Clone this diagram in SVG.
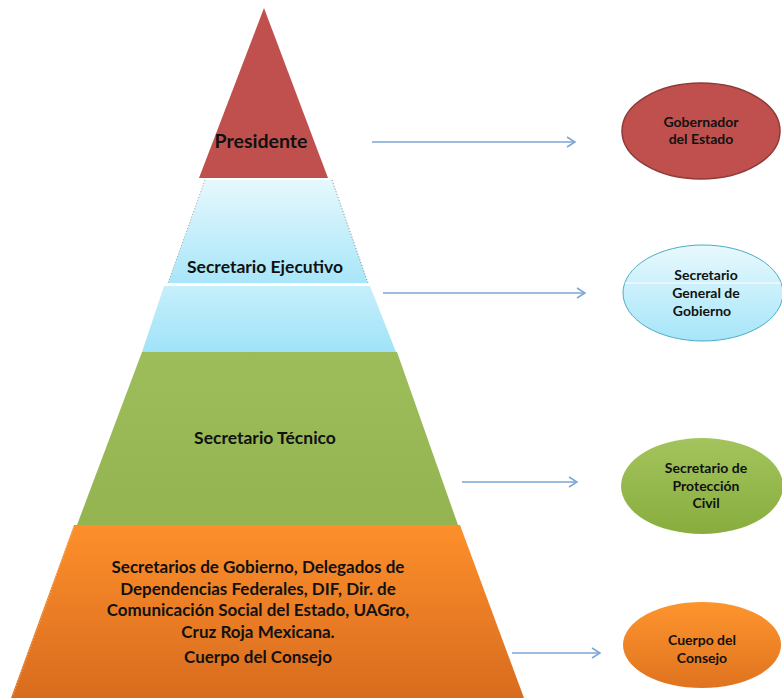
<svg xmlns="http://www.w3.org/2000/svg" width="782" height="698" viewBox="0 0 782 698">
<defs>
<linearGradient id="gBlue" x1="0" y1="0" x2="0" y2="1"><stop offset="0" stop-color="#e6f8fd"/><stop offset="1" stop-color="#a8e6f9"/></linearGradient>
<linearGradient id="gBlue2" x1="0" y1="0" x2="0" y2="1"><stop offset="0" stop-color="#c6effb"/><stop offset="1" stop-color="#a0e3f8"/></linearGradient>
<linearGradient id="gGreen" x1="0" y1="0" x2="0" y2="1"><stop offset="0" stop-color="#9dbd5a"/><stop offset="1" stop-color="#93b450"/></linearGradient>
<linearGradient id="gOrange" x1="0" y1="0" x2="0" y2="1"><stop offset="0" stop-color="#fd8f2b"/><stop offset="1" stop-color="#d86c1e"/></linearGradient>
<linearGradient id="eBlue" x1="0" y1="0" x2="0" y2="1"><stop offset="0" stop-color="#e8f9fd"/><stop offset="1" stop-color="#a6e5f9"/></linearGradient>
<linearGradient id="eGreen" x1="0" y1="0" x2="0" y2="1"><stop offset="0" stop-color="#a3c45c"/><stop offset="1" stop-color="#88ad3e"/></linearGradient>
<linearGradient id="eOrange" x1="0" y1="0" x2="0" y2="1"><stop offset="0" stop-color="#fd952e"/><stop offset="1" stop-color="#e0731f"/></linearGradient>
<marker id="arr" markerWidth="12" markerHeight="12" refX="10" refY="6" orient="auto" markerUnits="userSpaceOnUse">
<path d="M2,1 L10,6 L2,11" fill="none" stroke="#7da5d3" stroke-width="1.5"/>
</marker>
</defs>
<style>
.t{font-family:Lato,"Open Sans","Liberation Sans",sans-serif;font-weight:bold;fill:#111;text-anchor:middle}
.p{font-size:17.5px}
.q{font-size:17px}
.e{font-size:14px}
.c{fill:none;stroke:#7da5d3;stroke-width:1.6}
</style>
<rect width="782" height="698" fill="#ffffff"/>
<g id="presidente">
<polygon points="264,8 328,178 199,178" fill="#c0504d"/>
<text class="t" x="261" y="148" style="font-size:19.5px">Presidente</text>
</g>
<g id="secretario-ejecutivo">
<polygon points="205,180 332,180 368,283 168,283" fill="url(#gBlue)"/>
<line x1="205" y1="180" x2="168" y2="283" stroke="#888" stroke-width="0.8" stroke-dasharray="1,2"/>
<line x1="332" y1="180" x2="368" y2="283" stroke="#666" stroke-width="0.8" stroke-dasharray="1,2"/>
<polygon points="164,286 370,286 396,352 142,352" fill="url(#gBlue2)"/>
<text class="t p" x="265" y="273">Secretario Ejecutivo</text>
</g>
<g id="secretario-tecnico">
<polygon points="142,352 397,352 458,525 77,525" fill="url(#gGreen)"/>
<text class="t p" x="265" y="444">Secretario Técnico</text>
</g>
<g id="cuerpo-consejo">
<polygon points="74,525 460,525 524,698 11,698" fill="url(#gOrange)"/>
<line x1="74" y1="527" x2="13" y2="696" stroke="#f6c9a0" stroke-width="0.8" stroke-dasharray="1,2"/>
<text class="t q" x="258" y="573">Secretarios de Gobierno, Delegados de</text>
<text class="t q" x="258" y="595">Dependencias Federales, DIF, Dir. de</text>
<text class="t q" x="258" y="616">Comunicación Social del Estado, UAGro,</text>
<text class="t q" x="258" y="638">Cruz Roja Mexicana.</text>
<text class="t q" x="258" y="663">Cuerpo del Consejo</text>
</g>
<g id="connectors">
<line class="c" x1="372" y1="142" x2="575" y2="142" marker-end="url(#arr)"/>
<line class="c" x1="383" y1="293" x2="585" y2="293" marker-end="url(#arr)"/>
<line class="c" x1="462" y1="482" x2="577" y2="482" marker-end="url(#arr)"/>
<line class="c" x1="512" y1="653" x2="600" y2="653" marker-end="url(#arr)"/>
</g>
<g id="gobernador">
<ellipse cx="701" cy="131" rx="79" ry="48" fill="#c0504d" stroke="#8e3a38" stroke-width="1.5"/>
<text class="t e" x="701" y="127">Gobernador</text>
<text class="t e" x="701" y="144">del Estado</text>
</g>
<g id="secretario-general">
<ellipse cx="703" cy="293" rx="80" ry="48" fill="url(#eBlue)" stroke="#4bacc6" stroke-width="1"/>
<line x1="625" y1="283" x2="781" y2="283" stroke="#ffffff" stroke-width="1"/>
<text class="t e" x="706" y="280">Secretario</text>
<text class="t e" x="706" y="298">General de</text>
<text class="t e" x="702" y="316">Gobierno</text>
</g>
<g id="secretario-proteccion">
<ellipse cx="702" cy="486" rx="81" ry="48" fill="url(#eGreen)"/>
<text class="t e" x="706" y="473">Secretario de</text>
<text class="t e" x="706" y="491">Protección</text>
<text class="t e" x="706" y="508">Civil</text>
</g>
<g id="cuerpo-del-consejo">
<ellipse cx="702" cy="645" rx="79" ry="43" fill="url(#eOrange)"/>
<text class="t e" x="702" y="645">Cuerpo del</text>
<text class="t e" x="702" y="663">Consejo</text>
</g>
</svg>
